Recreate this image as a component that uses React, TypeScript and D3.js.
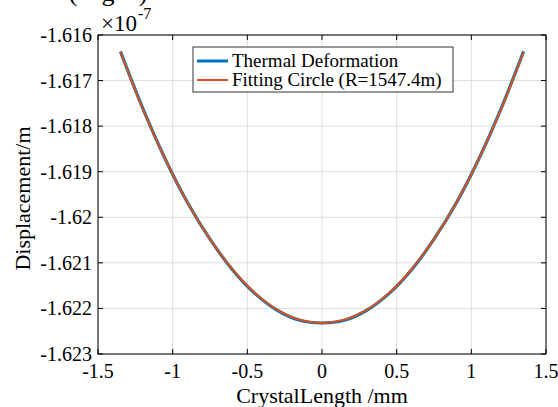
import React, { useRef, useEffect } from 'react';
import * as d3 from 'd3';

// values in units of 1e-7 m, x in mm
const xPoints = [-1.35, -1.2, -1.05, -0.9, -0.75, -0.6, -0.45, -0.3, -0.15, 0, 0.15, 0.3, 0.45, 0.6, 0.75, 0.9, 1.05, 1.2, 1.35];
const thermalValues = [-1.61636, -1.61761, -1.61872, -1.61968, -1.62048, -1.62115, -1.62167, -1.62204, -1.62226, -1.62232, -1.62226, -1.62204, -1.62167, -1.62115, -1.62048, -1.61968, -1.61872, -1.61761, -1.61636];
const fittingValues = [-1.61637, -1.61762, -1.61872, -1.61968, -1.62048, -1.62114, -1.62166, -1.62203, -1.62225, -1.62232, -1.62225, -1.62203, -1.62166, -1.62114, -1.62048, -1.61968, -1.61872, -1.61762, -1.61637];
const xTicks = [-1.5, -1, -0.5, 0, 0.5, 1, 1.5];
const yTicks = [-1.616, -1.617, -1.618, -1.619, -1.62, -1.621, -1.622, -1.623];
const seriesNames = ['Thermal Deformation', 'Fitting Circle (R=1547.4m)'];
const seriesColors = ['#0072BD', '#D95319'];
const captionParts = ['(', 'g', ')'];

const W = 558, H = 407;
const left = 98, right = 546, top = 35, bottom = 354;
const FONT = '"Liberation Serif", "Times New Roman", serif';

const App = () => {
    const svgRef = useRef<SVGSVGElement>(null);

    useEffect(() => {
        const svg = d3.select(svgRef.current);
        svg.selectAll('*').remove();

        const x = d3.scaleLinear().domain([-1.5, 1.5]).range([left, right]);
        const y = d3.scaleLinear().domain([-1.623, -1.616]).range([bottom, top]);

        svg.append('rect').attr('width', W).attr('height', H).attr('fill', '#fff');

        // grid
        const grid = svg.append('g').attr('stroke', '#dedede').attr('stroke-width', 1);
        xTicks.forEach(t => grid.append('line')
            .attr('x1', x(t)).attr('x2', x(t)).attr('y1', top).attr('y2', bottom));
        yTicks.forEach(t => grid.append('line')
            .attr('x1', left).attr('x2', right).attr('y1', y(t)).attr('y2', y(t)));

        // series
        const line = d3.line<number>()
            .x((d, i) => x(xPoints[i]))
            .y(d => y(d))
            .curve(d3.curveCatmullRom);
        svg.append('path').attr('d', line(thermalValues)).attr('fill', 'none')
            .attr('stroke', seriesColors[0]).attr('stroke-width', 3.2);
        svg.append('path').attr('d', line(fittingValues)).attr('fill', 'none')
            .attr('stroke', seriesColors[1]).attr('stroke-width', 2);

        // box + ticks
        const ax = svg.append('g').attr('stroke', '#000').attr('stroke-width', 1);
        ax.append('rect').attr('x', left).attr('y', top).attr('width', right - left).attr('height', bottom - top)
            .attr('fill', 'none');
        const tl = 5;
        xTicks.forEach(t => {
            ax.append('line').attr('x1', x(t)).attr('x2', x(t)).attr('y1', bottom).attr('y2', bottom - tl);
            ax.append('line').attr('x1', x(t)).attr('x2', x(t)).attr('y1', top).attr('y2', top + tl);
        });
        yTicks.forEach(t => {
            ax.append('line').attr('x1', left).attr('x2', left + tl).attr('y1', y(t)).attr('y2', y(t));
            ax.append('line').attr('x1', right).attr('x2', right - tl).attr('y1', y(t)).attr('y2', y(t));
        });

        // tick labels
        svg.append('g').selectAll('text').data(xTicks).enter().append('text')
            .attr('x', d => x(d)).attr('y', bottom + 24)
            .attr('text-anchor', 'middle')
            .style('font-family', FONT).style('font-size', '20px')
            .text(d => String(d));
        svg.append('g').selectAll('text').data(yTicks).enter().append('text')
            .attr('x', left - 6).attr('y', d => y(d) + 7)
            .attr('text-anchor', 'end')
            .style('font-family', FONT).style('font-size', '20px')
            .text(d => String(+d.toFixed(3)));

        // exponent
        svg.append('text').attr('x', left + 3).attr('y', top - 4)
            .style('font-family', FONT).style('font-size', '23px')
            .text('\u00d710');
        svg.append('text').attr('x', left + 40).attr('y', top - 16)
            .style('font-family', FONT).style('font-size', '16px')
            .text('-7');

        // axis labels
        svg.append('text').attr('x', (left + right) / 2).attr('y', bottom + 49)
            .attr('text-anchor', 'middle')
            .style('font-family', FONT).style('font-size', '22px')
            .text('CrystalLength /mm');
        svg.append('text')
            .attr('transform', `translate(30,${(top + bottom) / 2 + 4}) rotate(-90)`)
            .attr('text-anchor', 'middle')
            .style('font-family', FONT).style('font-size', '22px')
            .text('Displacement/m');

        // caption above, mostly cut off by the frame edge
        const cap = svg.append('text').attr('y', 1)
            .attr('text-anchor', 'middle')
            .style('font-family', FONT).style('font-size', '26px');
        captionParts.forEach((c, i) => cap.append('tspan').attr('x', 73 + i * 35).text(c));

        // legend
        const lg = svg.append('g');
        lg.append('rect').attr('x', 193).attr('y', 47).attr('width', 260).attr('height', 45)
            .attr('fill', '#fff').attr('stroke', '#333').attr('stroke-width', 1);
        seriesNames.forEach((name, i) => {
            const ly = 61 + i * 19;
            lg.append('line').attr('x1', 197).attr('x2', 228).attr('y1', ly).attr('y2', ly)
                .attr('stroke', seriesColors[i]).attr('stroke-width', i === 0 ? 3 : 2);
            lg.append('text').attr('x', 232).attr('y', ly + 6)
                .style('font-family', FONT).style('font-size', '19px')
                .text(name);
        });
    }, []);

    return (
        <div style={{ position: 'fixed', left: 0, top: 0 }}>
            <svg ref={svgRef} width={W} height={H} style={{ display: 'block' }}></svg>
        </div>
    );
};

export default App;
